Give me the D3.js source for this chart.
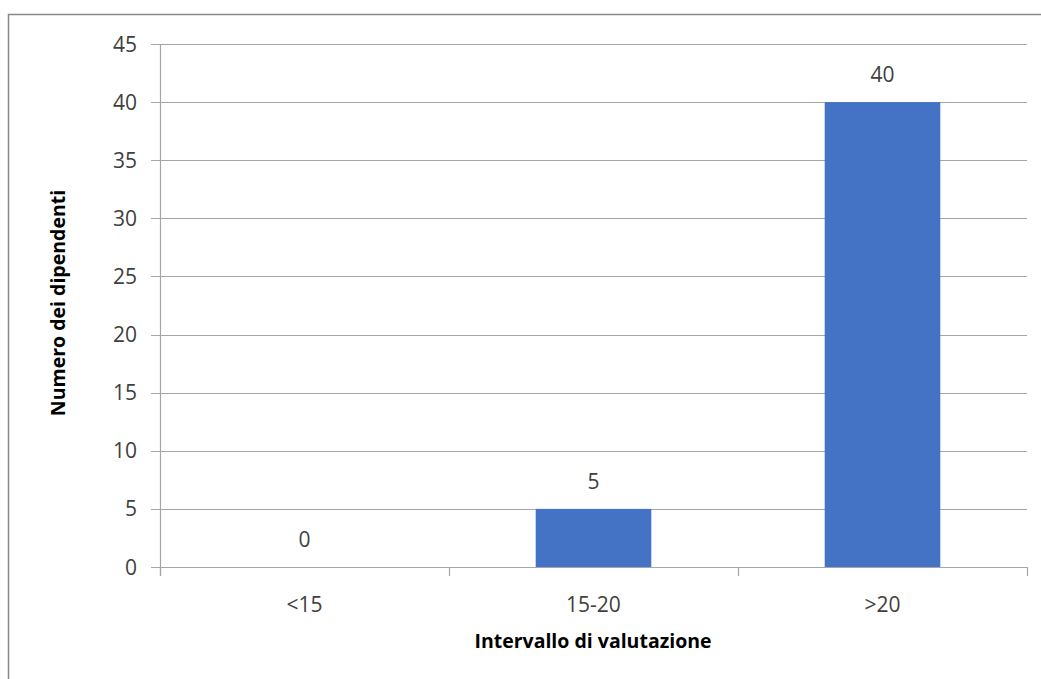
<!DOCTYPE html>
<html><head><meta charset="utf-8">
<script src="https://cdn.jsdelivr.net/npm/d3@7"></script>
<style>body{margin:0;background:#fff}svg{display:block}</style>
</head><body>
<svg id="c" width="1041" height="679"></svg>
<script>
const categories = ["<15", "15-20", ">20"];
const values = [0, 5, 40];
const yTicks = [0, 5, 10, 15, 20, 25, 30, 35, 40, 45];
const xTitle = "Intervallo di valutazione";
const yTitle = "Numero dei dipendenti";

const svg = d3.select("#c");
const font = "'Open Sans', 'Noto Sans', sans-serif";
svg.append("rect").attr("x", 8.5).attr("y", 14.5).attr("width", 1100).attr("height", 800)
  .attr("fill", "#fff").attr("stroke", "#888").attr("stroke-width", 1.5);

const L = 160, R = 1027, T = 44, B = 567;
const x = d3.scaleBand().domain(categories).range([L, R]).paddingInner(0.6).paddingOuter(0.3);
const xb = d3.scaleBand().domain(categories).range([L, R]);
const y = d3.scaleLinear().domain([0, 45]).range([B, T]);

const g = svg.append("g");
g.selectAll("line.grid").data(yTicks).join("line")
  .attr("x1", L - 9).attr("x2", R)
  .attr("y1", d => Math.round(y(d)) + 0.5).attr("y2", d => Math.round(y(d)) + 0.5)
  .attr("stroke", "#a6a6a6").attr("stroke-width", 1.2);
g.append("line").attr("x1", L + 0.5).attr("x2", L + 0.5).attr("y1", T).attr("y2", B + 9)
  .attr("stroke", "#a6a6a6").attr("stroke-width", 1.2);
const xt = [L, ...categories.slice(1).map(c => xb(c)), R];
g.selectAll("line.xt").data(xt).join("line")
  .attr("x1", d => Math.round(d) + 0.5).attr("x2", d => Math.round(d) + 0.5)
  .attr("y1", B).attr("y2", B + 9).attr("stroke", "#a6a6a6").attr("stroke-width", 1.2);

g.selectAll("rect.bar").data(values).join("rect")
  .attr("x", (d, i) => x(categories[i])).attr("width", x.bandwidth())
  .attr("y", d => y(d)).attr("height", d => B - y(d)).attr("fill", "#4472c4");

g.selectAll("text.val").data(values).join("text")
  .attr("x", (d, i) => x(categories[i]) + x.bandwidth() / 2).attr("y", d => y(d) - 20)
  .attr("text-anchor", "middle").attr("font-family", font).attr("font-size", 21).attr("fill", "#404040")
  .text(d => d);

g.selectAll("text.yt").data(yTicks).join("text")
  .attr("x", 137).attr("y", d => y(d) + 7.5)
  .attr("text-anchor", "end").attr("font-family", font).attr("font-size", 21).attr("fill", "#404040")
  .text(d => d);

g.selectAll("text.xl").data(categories).join("text")
  .attr("x", d => xb(d) + xb.bandwidth() / 2).attr("y", 612)
  .attr("text-anchor", "middle").attr("font-family", font).attr("font-size", 21).attr("fill", "#404040")
  .text(d => d);

svg.append("text").attr("x", 593).attr("y", 648).attr("text-anchor", "middle")
  .attr("font-family", font).attr("font-size", 19.5).attr("font-weight", "bold").attr("fill", "#000")
  .text(xTitle);
svg.append("text").attr("transform", "translate(65,303) rotate(-90)").attr("text-anchor", "middle")
  .attr("font-family", font).attr("font-size", 19.5).attr("font-weight", "bold").attr("fill", "#000")
  .text(yTitle);
</script>
</body></html>
